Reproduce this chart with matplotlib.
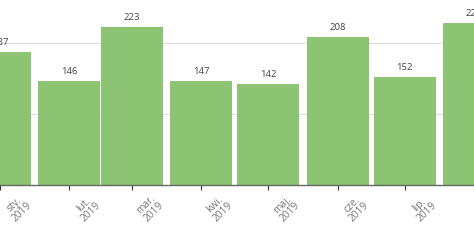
import matplotlib
matplotlib.use("Agg")
import matplotlib.pyplot as plt
import matplotlib.transforms as mtransforms
import numpy as np

# monthly totals, 2019 (first and last bar are cut off in the source view)
months = ["sty.", "lut.", "mar.", "kwi.", "maj.", "cze.", "lip.", "sie."]
years = ["2019"] * len(months)
values = [187, 146, 223, 147, 142, 208, 152, 228]
# day-of-year on which each month starts
month_start = [0, 31, 59, 90, 120, 151, 181, 212]

BAR_DAYS = 27.8
GREEN = "#8cc473"

plt.rcParams["font.family"] = ["Open Sans", "DejaVu Sans"]

fig = plt.figure(figsize=(4.74, 2.40), dpi=100)
ax = fig.add_axes([0.0, 55 / 240, 1.0, 185 / 240])

x = np.array(month_start, dtype=float)
ax.bar(x, values, width=BAR_DAYS, align="edge", color=GREEN, edgecolor="none", zorder=2)

centers = x + BAR_DAYS / 2
for cx, v in zip(centers, values):
    ax.annotate(str(v), (cx, v), xytext=(0, 3.5), textcoords="offset points",
                ha="center", va="bottom", fontsize=6.8, color="#444444")

x0 = 15.0
ax.set_xlim(x0, x0 + 474 / 2.27)
ax.set_ylim(0, 260.6)

ax.set_yticks([100, 200])
ax.yaxis.grid(True, color="#dddddd", linewidth=0.8, zorder=0)
ax.tick_params(axis="y", left=False, labelleft=False)

ax.set_xticks(centers)
ax.set_xticklabels([f"{m}\n{y}" for m, y in zip(months, years)])
ax.tick_params(axis="x", length=3.5, width=0.8, color="#333333", pad=2,
               labelsize=7.3, labelcolor="#777777")
offset = mtransforms.ScaledTranslation(2 / 100, 0, fig.dpi_scale_trans)
for lab in ax.get_xticklabels():
    lab.set_rotation(45)
    lab.set_ha("left")
    lab.set_va("top")
    lab.set_multialignment("center")
    lab.set_linespacing(1.0)
    lab.set_transform(lab.get_transform() + offset)

for side in ("top", "left", "right"):
    ax.spines[side].set_visible(False)
ax.spines["bottom"].set_color("#666666")
ax.spines["bottom"].set_linewidth(1.0)
ax.spines["bottom"].set_zorder(3)

fig.savefig("out.png", dpi=100)
